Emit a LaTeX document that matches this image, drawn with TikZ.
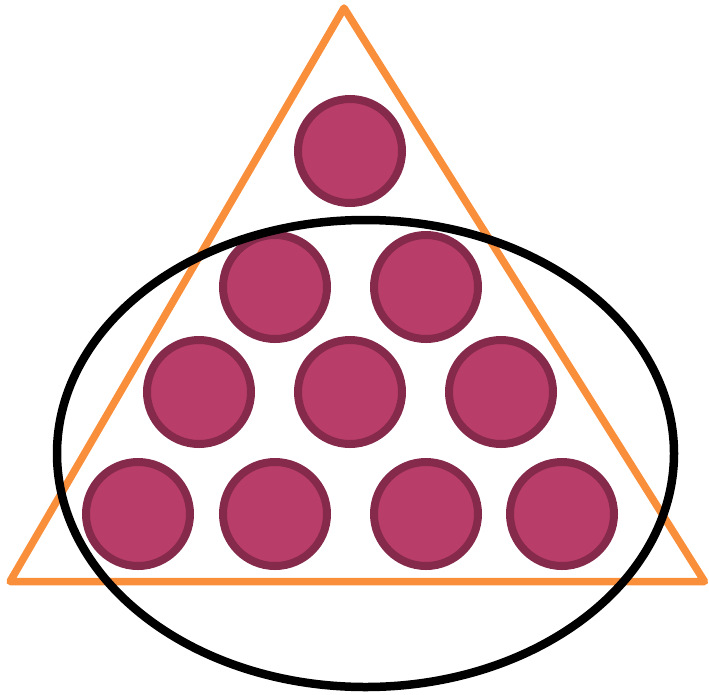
\documentclass[tikz,border=0pt]{standalone}
\usepackage{xcolor}
\usepackage{tikz}
\usetikzlibrary{positioning}
\definecolor{ballfill}{HTML}{B83D68}
\definecolor{balledge}{HTML}{862A4C}
\definecolor{triorange}{HTML}{F98E3B}

\begin{document}
\begin{tikzpicture}[
    x=1pt,y=-1pt,
    ball/.style={circle,draw=balledge,fill=ballfill,line width=8pt,
                 minimum size=104pt,inner sep=0pt},
    tri/.style={draw=triorange,line width=7.5pt,line join=round,line cap=round},
    oval/.style={draw=black,line width=8.5pt},
]
\useasboundingbox (0,0) rectangle (709,694);

% triangle and ellipse
\draw[tri] (344,8) -- (704.5,581.5) -- (10,581.5) -- cycle;

\node[ball] (b1) at (350,151) {};
\node[ball] (b2) at (275,287) {};
\node[ball] (b3) at (426,287) {};
\node[ball] (b4) at (199,392) {};
\node[ball] (b5) at (350,392) {};
\node[ball] (b6) at (501,392) {};
\node[ball] (b7) at (138,514) {};
\node[ball] (b8) at (275,514) {};
\node[ball] (b9) at (426,514) {};
\node[ball] (b10) at (562,514) {};

\draw[oval] (365.5,453.5) ellipse [x radius=308.5, y radius=233.5];

\end{tikzpicture}
\end{document}
